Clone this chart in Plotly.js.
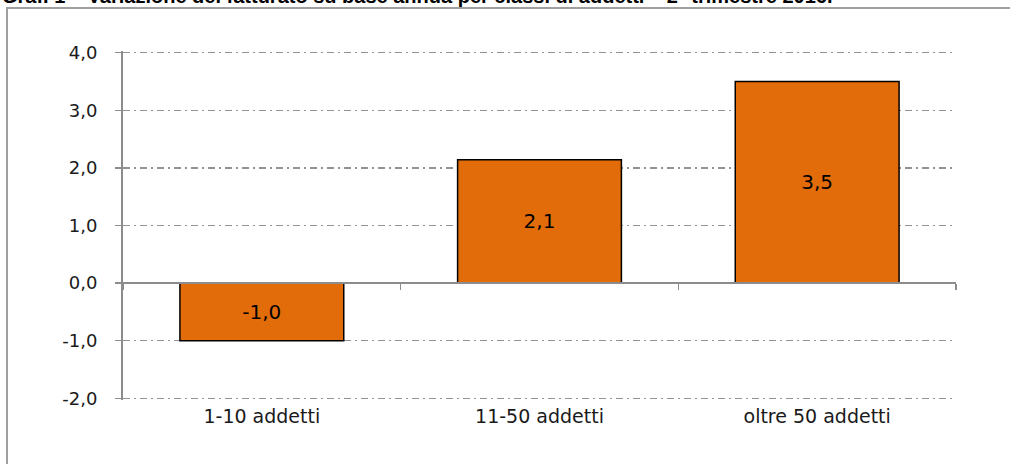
<!DOCTYPE html>
<html>
<head>
<meta charset="utf-8">
<script src="https://cdn.plot.ly/plotly-3.0.1.min.js"></script>
<style>
  html, body { margin: 0; padding: 0; background: #fff; }
  #wrap { position: relative; width: 1010px; height: 464px; }
  #chart { width: 1010px; height: 464px; }
  #frame { position: absolute; left: 6px; top: 7px; right: 0; bottom: -5px;
           border-left: 2px solid #a0a0a0; border-top: 2px solid #a0a0a0; pointer-events: none; }
</style>
</head>
<body>
<div id="wrap">
  <div id="chart"></div>
  <div id="frame"></div>
</div>
<script>
const chartTitle = "Graf. 1 – Variazione del fatturato su base annua per classi di addetti – 2° trimestre 2016.";
const categories = ["1-10 addetti", "11-50 addetti", "oltre 50 addetti"];
const values = [-1.0, 2.14, 3.5];
const yTicks = [-2, -1, 0, 1, 2, 3, 4];
const yTickLabels = ["-2,0", "-1,0", "0,0", "1,0", "2,0", "3,0", "4,0"];

const fontFam = "DejaVu Sans, Verdana, sans-serif";

const bars = {
  type: "bar",
  x: categories,
  y: values,
  xaxis: "x",
  yaxis: "y",
  marker: { color: "#E36C0A", line: { color: "#000", width: 1.5 } },
  text: values.map(v => v.toFixed(1).replace(".", ",")),
  texttemplate: "%{text}",
  textposition: "inside",
  insidetextanchor: "middle",
  textfont: { family: fontFam, size: 20, color: "#000" },
  hoverinfo: "skip",
  showlegend: false
};
const tickHelper = {
  type: "scatter",
  mode: "markers",
  x: categories,
  y: values,
  xaxis: "x2",
  yaxis: "y",
  marker: { opacity: 0 },
  hoverinfo: "skip",
  showlegend: false
};

const layout = {
  width: 1010,
  height: 464,
  margin: { l: 123, r: 54, t: 51, b: 64 },
  paper_bgcolor: "#fff",
  plot_bgcolor: "#fff",
  separators: ",.",
  font: { family: fontFam, size: 17, color: "#1a1a1a" },
  annotations: [{
    text: "<b>" + chartTitle + "</b>",
    font: { family: "Liberation Sans, Arial, sans-serif", size: 20, color: "#000" },
    xref: "paper", yref: "paper",
    x: 0, y: 1, xanchor: "left", yanchor: "middle",
    xshift: -123, yshift: 55,
    showarrow: false
  }],
  bargap: 0.41,
  xaxis: {
    type: "category",
    showline: false,
    showgrid: false,
    zeroline: false,
    ticks: "",
    tickfont: { family: fontFam, size: 19, color: "#1a1a1a" },
    ticklabelstandoff: 3
  },
  xaxis2: {
    type: "category",
    overlaying: "x",
    matches: "x",
    anchor: "free",
    position: 2.03 / 6.06,
    side: "bottom",
    showticklabels: false,
    showgrid: false,
    zeroline: false,
    showline: true,
    linecolor: "#8c8c8c",
    linewidth: 2,
    ticks: "outside",
    tickson: "boundaries",
    ticklen: 6,
    tickwidth: 1.5,
    tickcolor: "#8c8c8c"
  },
  yaxis: {
    range: [-2.03, 4.03],
    tickvals: yTicks,
    ticktext: yTickLabels,
    showline: true,
    linecolor: "#8c8c8c",
    linewidth: 2,
    ticks: "outside",
    ticklen: 6,
    tickwidth: 1.5,
    tickcolor: "#8c8c8c",
    showgrid: true,
    gridcolor: "#939393",
    gridwidth: 1.5,
    griddash: "7px,4px,2px,4px",
    zeroline: true,
    zerolinecolor: "#8c8c8c",
    zerolinewidth: 2,
    ticklabelstandoff: 14,
    tickfont: { family: fontFam, size: 18, color: "#1a1a1a" }
  }
};

Plotly.newPlot("chart", [bars, tickHelper], layout, { displayModeBar: false, staticPlot: true });
</script>
</body>
</html>
